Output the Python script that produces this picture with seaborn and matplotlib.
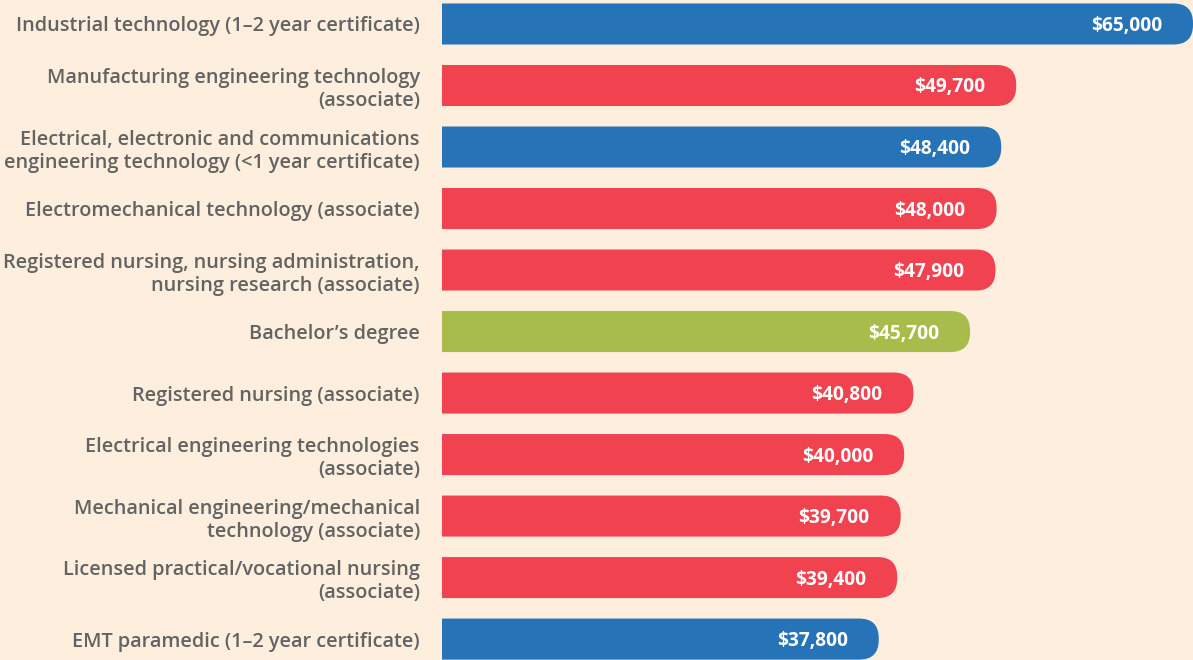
import numpy as np
import pandas as pd
import matplotlib
matplotlib.use("Agg")
import matplotlib.pyplot as plt
from matplotlib.patches import FancyBboxPatch
import seaborn as sns

# data
programs = [
    "Industrial technology (1\u20132 year certificate)",
    "Manufacturing engineering technology\n(associate)",
    "Electrical, electronic and communications\nengineering technology (<1 year certificate)",
    "Electromechanical technology (associate)",
    "Registered nursing, nursing administration,\nnursing research (associate)",
    "Bachelor\u2019s degree",
    "Registered nursing (associate)",
    "Electrical engineering technologies\n(associate)",
    "Mechanical engineering/mechanical\ntechnology (associate)",
    "Licensed practical/vocational nursing\n(associate)",
    "EMT paramedic (1\u20132 year certificate)",
]
earnings = [65000, 49700, 48400, 48000, 47900, 45700, 40800, 40000, 39700, 39400, 37800]
kind = ["cert", "assoc", "cert", "assoc", "assoc", "bach",
        "assoc", "assoc", "assoc", "assoc", "cert"]
value_labels = ["$65,000", "$49,700", "$48,400", "$48,000", "$47,900", "$45,700",
                "$40,800", "$40,000", "$39,700", "$39,400", "$37,800"]

palette = {"cert": "#2773B8", "assoc": "#F1434F", "bach": "#A8BC4B"}
bg = "#FDEEDD"

df = pd.DataFrame({"program": programs, "earnings": earnings, "kind": kind})

sns.set_style("white")
plt.rcParams["font.family"] = ["Open Sans", "DejaVu Sans"]

W, H = 1193, 660
fig = plt.figure(figsize=(W / 100, H / 100), dpi=100, facecolor=bg)
ax = fig.add_axes([442 / W, 0, 751 / W, 1])
ax.set_facecolor(bg)

sns.barplot(data=df, x="earnings", y="program", hue="kind", palette=palette,
            dodge=False, width=0.667, legend=False, ax=ax, saturation=1)

xmax = 65000
ax.set_xlim(0, xmax)
ax.set_ylim(10.34, -0.39)

# px -> data conversions
px_x = xmax / 751.0
px_y = (10.34 + 0.39) / H
r_px = 19.5
r = r_px * px_x

# swap square bars for bars with a rounded right end
for p in list(ax.patches):
    x0, y0 = p.get_x(), p.get_y()
    w, h = p.get_width(), p.get_height()
    if w <= 0:
        continue
    fc = p.get_facecolor()
    p.remove()
    fb = FancyBboxPatch((x0 - 2 * r, y0), w + 2 * r, h,
                        boxstyle=f"round,pad=0,rounding_size={r}",
                        mutation_aspect=px_y / px_x,
                        facecolor=fc, edgecolor="none", clip_on=True)
    ax.add_patch(fb)

for i, (v, lab) in enumerate(zip(earnings, value_labels)):
    ax.text(v - 31 * px_x, i + 2 * px_y, lab, ha="right", va="center", color="white",
            fontsize=13.8, fontweight="bold")

ax.set_xlabel("")
ax.set_ylabel("")
ax.set_xticks([])
ax.tick_params(axis="y", length=0, pad=16, labelsize=14.3, labelcolor="#636363")
for t in ax.get_yticklabels():
    t.set_fontweight("semibold")
    t.set_linespacing(1.22)
    t.set_multialignment("right")
for s in ax.spines.values():
    s.set_visible(False)

fig.savefig("out.png", dpi=100, facecolor=bg)
